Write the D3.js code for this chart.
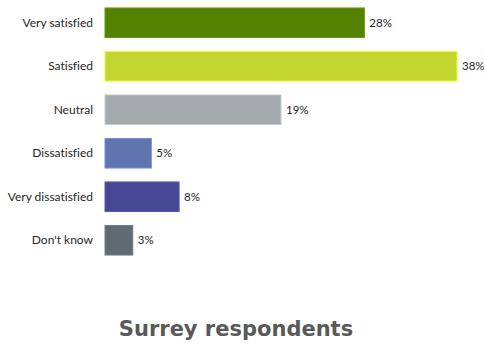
<!DOCTYPE html>
<html>
<head>
<meta charset="utf-8">
<script src="https://cdn.jsdelivr.net/npm/d3@7/dist/d3.min.js"></script>
<style>
  html, body { margin: 0; padding: 0; background: #fff; }
  svg { display: block; }
  text { font-variant-ligatures: none; }
</style>
</head>
<body>
<svg id="chart" width="484" height="344"></svg>
<script>
// Survey satisfaction breakdown
const categories = ["Very satisfied", "Satisfied", "Neutral", "Dissatisfied", "Very dissatisfied", "Don't know"];
const values = [28, 38, 19, 5, 8, 3];
const colors = ["#538200", "#C3D62F", "#A5ABAD", "#6075B0", "#464896", "#5F6A72"];
const title = "Surrey respondents";

const data = categories.map((c, i) => ({ category: c, value: values[i], color: colors[i] }));

const svg = d3.select("#chart");
const font = "Lato, 'Open Sans', sans-serif";

const x = d3.scaleLinear().domain([0, 38]).range([105, 457]);
const y = d3.scaleBand().domain(categories).range([1, 262]).paddingInner(0.32).paddingOuter(0.16);

// Category labels
svg.append("g")
  .selectAll("text")
  .data(data)
  .join("text")
  .attr("x", 93)
  .attr("y", d => y(d.category) + y.bandwidth() / 2)
  .attr("dy", "0.35em")
  .attr("text-anchor", "end")
  .attr("font-family", font)
  .attr("font-size", 12)
  .attr("fill", "#262626")
  .text(d => d.category);

// Bars
svg.append("g")
  .selectAll("rect")
  .data(data)
  .join("rect")
  .attr("x", x(0))
  .attr("y", d => y(d.category))
  .attr("width", d => x(d.value) - x(0))
  .attr("height", y.bandwidth())
  .attr("fill", d => d.color)
  .attr("stroke", d => d3.color(d.color).brighter(0.5))
  .attr("stroke-width", 1);

// Value labels
svg.append("g")
  .selectAll("text")
  .data(data)
  .join("text")
  .attr("x", d => x(d.value) + 5)
  .attr("y", d => y(d.category) + y.bandwidth() / 2)
  .attr("dy", "0.35em")
  .attr("font-family", font)
  .attr("font-size", 11.5)
  .attr("fill", "#262626")
  .text(d => d.value + "%");

// Title
svg.append("text")
  .attr("x", 236)
  .attr("y", 336)
  .attr("text-anchor", "middle")
  .attr("font-family", "'DejaVu Sans', sans-serif")
  .attr("font-size", 21)
  .attr("font-weight", "bold")
  .attr("fill", "#595959")
  .text(title);
</script>
</body>
</html>
